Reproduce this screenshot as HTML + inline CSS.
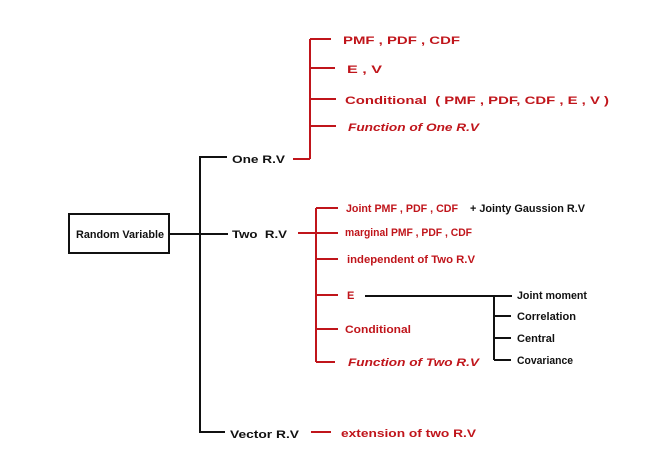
<!DOCTYPE html>
<html><head><meta charset="utf-8"><style>
html,body{margin:0;padding:0;background:#fff;}
svg{display:block}
text{font-family:"Liberation Sans",sans-serif;font-weight:bold;font-size:11px;}
.r{fill:#c0151b}.k{fill:#111}
</style></head><body>
<svg width="648" height="465" viewBox="0 0 648 465" xmlns="http://www.w3.org/2000/svg">
<g stroke="#111" stroke-width="2" fill="none">
<rect x="69" y="214" width="100" height="39" fill="#fff"/>
<line x1="169" y1="234" x2="228" y2="234"/>
<line x1="200" y1="157" x2="200" y2="432"/>
<line x1="199" y1="157" x2="227" y2="157"/>
<line x1="199" y1="432" x2="225" y2="432"/>
<line x1="365" y1="296" x2="512" y2="296"/>
<line x1="494" y1="296" x2="494" y2="360"/>
<line x1="494" y1="316" x2="511" y2="316"/>
<line x1="494" y1="338" x2="511" y2="338"/>
<line x1="494" y1="360" x2="511" y2="360"/>
</g>
<g stroke="#c0151b" stroke-width="2" fill="none">
<line x1="293" y1="159" x2="310" y2="159"/>
<line x1="310" y1="39" x2="310" y2="159"/>
<line x1="310" y1="39" x2="331" y2="39"/>
<line x1="310" y1="68" x2="335" y2="68"/>
<line x1="310" y1="99" x2="336" y2="99"/>
<line x1="310" y1="126" x2="336" y2="126"/>
<line x1="298" y1="233" x2="338" y2="233"/>
<line x1="316" y1="208" x2="316" y2="362"/>
<line x1="316" y1="208" x2="338" y2="208"/>
<line x1="316" y1="259" x2="338" y2="259"/>
<line x1="316" y1="295" x2="338" y2="295"/>
<line x1="316" y1="329" x2="338" y2="329"/>
<line x1="316" y1="362" x2="335" y2="362"/>
<line x1="311" y1="432" x2="331" y2="432"/>
</g>
<g lengthAdjust="spacingAndGlyphs">
<text class="k" x="76" y="238" font-size="10" textLength="88" lengthAdjust="spacingAndGlyphs">Random Variable</text>
<text class="k" x="232" y="163" textLength="53" lengthAdjust="spacingAndGlyphs">One R.V</text>
<text class="k" x="232" y="238" textLength="55" lengthAdjust="spacingAndGlyphs">Two &#160;R.V</text>
<text class="k" x="230" y="438" textLength="69" lengthAdjust="spacingAndGlyphs">Vector R.V</text>
<text class="r" x="343" y="44" font-size="12" textLength="117" lengthAdjust="spacingAndGlyphs">PMF , PDF , CDF</text>
<text class="r" x="347" y="73" font-size="12" textLength="35" lengthAdjust="spacingAndGlyphs">E , V</text>
<text class="r" x="345" y="104" font-size="12" textLength="264" lengthAdjust="spacingAndGlyphs">Conditional &#160;( PMF , PDF, CDF , E , V )</text>
<text class="r" x="348" y="131" font-style="italic" textLength="131" lengthAdjust="spacingAndGlyphs">Function of One R.V</text>
<text class="r" x="346" y="212" font-size="10" textLength="112" lengthAdjust="spacingAndGlyphs">Joint PMF , PDF , CDF</text>
<text class="k" x="470" y="212" font-size="10" textLength="115" lengthAdjust="spacingAndGlyphs">+ Jointy Gaussion R.V</text>
<text class="r" x="345" y="236" font-size="10" textLength="127" lengthAdjust="spacingAndGlyphs">marginal PMF , PDF , CDF</text>
<text class="r" x="347" y="263" font-size="10" textLength="128" lengthAdjust="spacingAndGlyphs">independent of Two R.V</text>
<text class="r" x="347" y="299">E</text>
<text class="r" x="345" y="333" textLength="66" lengthAdjust="spacingAndGlyphs">Conditional</text>
<text class="r" x="348" y="366" font-style="italic" textLength="131" lengthAdjust="spacingAndGlyphs">Function of Two R.V</text>
<text class="r" x="341" y="437" textLength="135" lengthAdjust="spacingAndGlyphs">extension of two R.V</text>
<text class="k" x="517" y="299" font-size="10" textLength="70" lengthAdjust="spacingAndGlyphs">Joint moment</text>
<text class="k" x="517" y="320" font-size="10" textLength="59" lengthAdjust="spacingAndGlyphs">Correlation</text>
<text class="k" x="517" y="342" font-size="10" textLength="38" lengthAdjust="spacingAndGlyphs">Central</text>
<text class="k" x="517" y="364" font-size="10" textLength="56" lengthAdjust="spacingAndGlyphs">Covariance</text>
</g>
</svg>
</body></html>
